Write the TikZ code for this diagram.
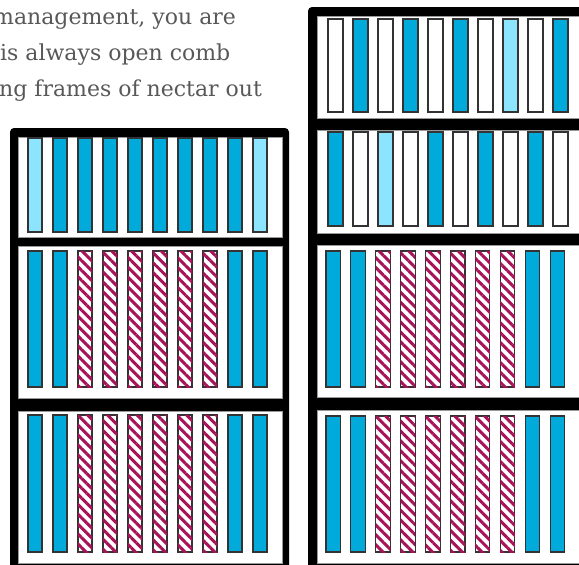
\documentclass[tikz,border=0pt]{standalone}
\usepackage{fontspec}
\setmainfont{DejaVu Serif}
\usetikzlibrary{patterns.meta}
\definecolor{hblue}{RGB}{0,170,219}
\definecolor{hlight}{RGB}{140,228,255}
\definecolor{hcrim}{RGB}{168,18,88}
\definecolor{htext}{RGB}{88,88,88}
\begin{document}
\begin{tikzpicture}[x=1pt,y=-1pt,
  hive/.style={fill=black, rounded corners=4pt},
  bay/.style={fill=white, draw=black!40, line width=0.5pt},
  fr/.style={draw=black!80, line width=1.1pt},
  fb/.style={fr, fill=hblue},
  fl/.style={fr, fill=hlight},
  fw/.style={fr, fill=white},
  fh/.style={fr, fill=white, postaction={pattern={Lines[angle=-45,distance=7pt,line width=3pt]}, pattern color=hcrim}},
  txt/.style={text=htext, font=\fontsize{22}{36.5}\selectfont, anchor=base west, inner sep=0pt}]
\useasboundingbox (0,0) rectangle (579,565);
\clip (0,0) rectangle (579,565);
% text
\node[txt] (t1) at (-7,24) {management, you are};
\node[txt] (t2) at (0,60.5) {is always open comb};
\node[txt] (t3) at (-1,96) {ng frames of nectar out};
% left hive
\fill[hive] (10,128) rectangle (289,580);
\path[bay] (18,137) rectangle (282,237);
\path[bay] (18,246) rectangle (282,398);
\path[bay] (18,411) rectangle (282,563);
% right hive
\fill[hive] (308,7) rectangle (620,580);
\path[bay] (317,16) rectangle (600,118);
\path[bay] (317,130) rectangle (600,233);
\path[bay] (317,245) rectangle (600,397);
\path[bay] (317,410) rectangle (600,563);
% left box 1
\foreach \i in {1,...,8}
  \path[fb] (28+25*\i,138) rectangle ++(14,94);
\foreach \i in {0,9}
  \path[fl] (28+25*\i,138) rectangle ++(14,94);
% left box 2 and 3
\foreach \i in {0,1,8,9}
  \path[fb] (28+25*\i,251) rectangle ++(14,136);
\foreach \i in {2,...,7}
  \path[fh] (28+25*\i,251) rectangle ++(14,136);
\foreach \i in {0,1,8,9}
  \path[fb] (28+25*\i,415) rectangle ++(14,137);
\foreach \i in {2,...,7}
  \path[fh] (28+25*\i,415) rectangle ++(14,137);
% right box 1
\foreach \i in {1,3,5,9}
  \path[fb] (328+25*\i,19) rectangle ++(15,93);
\foreach \i in {0,2,4,6,8}
  \path[fw] (328+25*\i,19) rectangle ++(15,93);
\path[fl] (503,19) rectangle ++(15,93);
% right box 2
\foreach \i in {0,4,6,8}
  \path[fb] (328+25*\i,132) rectangle ++(15,94);
\foreach \i in {1,3,5,7,9}
  \path[fw] (328+25*\i,132) rectangle ++(15,94);
\path[fl] (378,132) rectangle ++(15,94);
% right box 3 and 4
\foreach \i in {0,1,8,9}
  \path[fb] (326+24.9*\i,251) rectangle ++(14.5,136);
\foreach \i in {2,...,7}
  \path[fh] (326+24.9*\i,251) rectangle ++(14.5,136);
\foreach \i in {0,1,8,9}
  \path[fb] (326+24.9*\i,416) rectangle ++(14.5,136);
\foreach \i in {2,...,7}
  \path[fh] (326+24.9*\i,416) rectangle ++(14.5,136);
\end{tikzpicture}
\end{document}
